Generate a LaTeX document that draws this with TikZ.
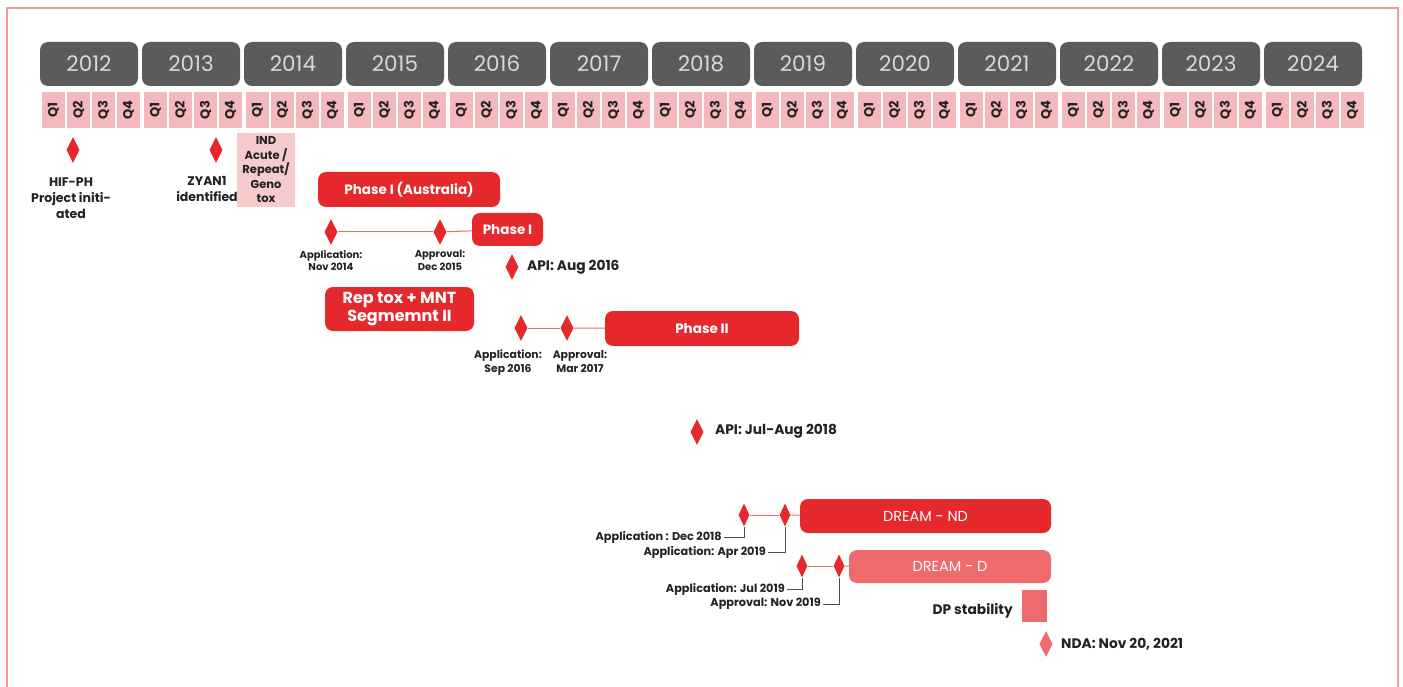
\documentclass[tikz,border=0pt]{standalone}
\usepackage{fontspec}
\setmainfont{Poppins}
\usetikzlibrary{shapes.geometric}
\definecolor{barred}{HTML}{E5282B}
\definecolor{barlight}{HTML}{EE6A6D}
\definecolor{qpink}{HTML}{F4B9BC}
\definecolor{indpink}{HTML}{F5CBCB}
\definecolor{yeargrey}{HTML}{5B5B5B}
\definecolor{yeartext}{HTML}{D8D8D8}
\definecolor{framered}{HTML}{F59A9A}
\definecolor{labeltext}{HTML}{222222}

\begin{document}
\begin{tikzpicture}[x=1pt, y=-1pt,
  yearbox/.style={fill=yeargrey, rounded corners=8pt, minimum width=98pt, minimum height=44pt, inner sep=0pt, text=yeartext, font=\fontsize{21.5}{24}\selectfont},
  qcell/.style={fill=qpink, minimum width=23pt, minimum height=36pt, inner sep=0pt},
  qtext/.style={rotate=90, text=labeltext, font=\bfseries\fontsize{13}{14}\selectfont},
  bar/.style={fill=barred, rounded corners=8pt, inner sep=0pt, text=white, font=\bfseries\fontsize{13.5}{15}\selectfont},
  lightbar/.style={bar, fill=barlight},
  mstone/.style={diamond, fill=barred, aspect=0.5, minimum width=13pt, minimum height=26pt, inner sep=0pt},
  smallstone/.style={mstone, minimum width=11pt, minimum height=23pt},
  note/.style={text=labeltext, align=center, inner sep=0pt, font=\bfseries\fontsize{12.5}{16}\selectfont},
  bignote/.style={note, font=\bfseries\fontsize{13.8}{16}\selectfont},
  tiny/.style={text=labeltext, align=center, inner sep=0pt, font=\bfseries\fontsize{10}{12.5}\selectfont},
  leadnote/.style={tiny, font=\bfseries\fontsize{11.3}{13}\selectfont},
  link/.style={barlight, line width=1pt},
  leader/.style={labeltext!80, line width=0.9pt}]
\useasboundingbox (0,0) rectangle (1403,687);
\draw[framered, line width=2pt] (7,700) -- (7,8) -- (1398,8) -- (1398,700);

% years and quarters
\foreach \yr [count=\i from 0] in {2012,...,2024} {
  \node[yearbox] (y\yr) at (89+102*\i, 64) {\yr};
  \foreach \q in {1,...,4}
    \node[qcell] (q\yr\q) at (28.5+102*\i+25*\q, 110) {};
  \foreach \q in {1,...,4}
    \node[qtext] at (q\yr\q) {Q\q};
}

% 2012 -- 2014
\node[mstone] (hif) at (73,150) {};
\node[note, anchor=north] (hiflbl) at (71,178) {HIF-PH\\Project initi-\\ated};
\node[mstone] (zyan) at (216,150) {};
\node[note, anchor=north] (zyanlbl) at (207,176) {ZYAN1\\identified};
\node[fill=indpink, minimum width=58pt, minimum height=74pt, inner sep=0pt] (ind) at (266,170) {};
\node[tiny, font=\bfseries\fontsize{11.5}{14.5}\selectfont] at (ind) {IND\\Acute /\\Repeat/\\Geno\\tox};

% phase I
\node[bar, minimum width=182pt, minimum height=35pt] (ph1au) at (409,189.5) {Phase I (Australia)};
\node[bar, minimum width=71pt, minimum height=33pt] (ph1) at (507.5,229.5) {Phase I};
\node[mstone] (app1) at (331,232) {};
\node[mstone] (apr1) at (440,232) {};
\draw[link] (app1) -- (apr1);
\draw[link] (apr1) -- (ph1);
\node[tiny, anchor=north] at (331,250) {Application:\\Nov 2014};
\node[tiny, anchor=north] at (440,250) {Approval:\\Dec 2015};
\node[mstone] (api1) at (512,267) {};
\node[bignote, anchor=west] at (527,267) {API: Aug 2016};
\node[bar, minimum width=149pt, minimum height=44pt, align=center, font=\bfseries\fontsize{16}{18}\selectfont] (rep) at (399.5,309) {Rep tox + MNT\\Segmemnt II};

% phase II
\node[bar, minimum width=194pt, minimum height=35pt] (ph2) at (702,328.5) {Phase II};
\node[mstone] (app2) at (521,328) {};
\node[mstone] (apr2) at (567,328) {};
\draw[link] (app2) -- (apr2);
\draw[link] (apr2) -- (ph2);
\node[tiny, anchor=north, font=\bfseries\fontsize{10.8}{14}\selectfont] at (508,350) {Application:\\Sep 2016};
\node[tiny, anchor=north, font=\bfseries\fontsize{10.8}{14}\selectfont] at (580,350) {Approval:\\Mar 2017};
\node[mstone] (api2) at (697,432) {};
\node[bignote, anchor=west] at (715,431) {API: Jul-Aug 2018};

% DREAM studies
\node[bar, minimum width=251pt, minimum height=34pt, font=\fontsize{14.5}{16}\selectfont] (nd) at (925.5,516) {DREAM - ND};
\node[smallstone] (app3) at (744,515) {};
\node[smallstone] (apr3) at (785,515) {};
\draw[link] (app3) -- (apr3);
\draw[link] (apr3) -- (nd);
\node[leadnote, anchor=east] (app3lbl) at (722,537) {Application : Dec 2018};
\node[leadnote, anchor=east] (apr3lbl) at (766,552) {Application: Apr 2019};
\draw[leader] (app3lbl.east) ++(2,0) -| (app3.south);
\draw[leader] (apr3lbl.east) ++(2,0) -| (apr3.south);

\node[lightbar, minimum width=202pt, minimum height=33pt, font=\fontsize{14.5}{16}\selectfont] (dd) at (950,566.5) {DREAM - D};
\node[smallstone] (app4) at (802,566) {};
\node[smallstone] (apr4) at (839,566) {};
\draw[link] (app4) -- (apr4);
\draw[link] (apr4) -- (dd);
\node[leadnote, anchor=east] (app4lbl) at (785,589) {Application: Jul 2019};
\node[leadnote, anchor=east] (apr4lbl) at (821,604) {Approval: Nov 2019};
\draw[leader] (app4lbl.east) ++(2,0) -| (app4.south);
\draw[leader] (apr4lbl.east) ++(2,0) -| (apr4.south);

\node[fill=barlight, minimum width=25pt, minimum height=32pt, inner sep=0pt] (dp) at (1034.5,606) {};
\node[bignote, anchor=east] at (1013,611) {DP stability};
\node[mstone, fill=barlight] (nda) at (1046,644) {};
\node[bignote, anchor=west] at (1061,644) {NDA: Nov 20, 2021};
\end{tikzpicture}
\end{document}
